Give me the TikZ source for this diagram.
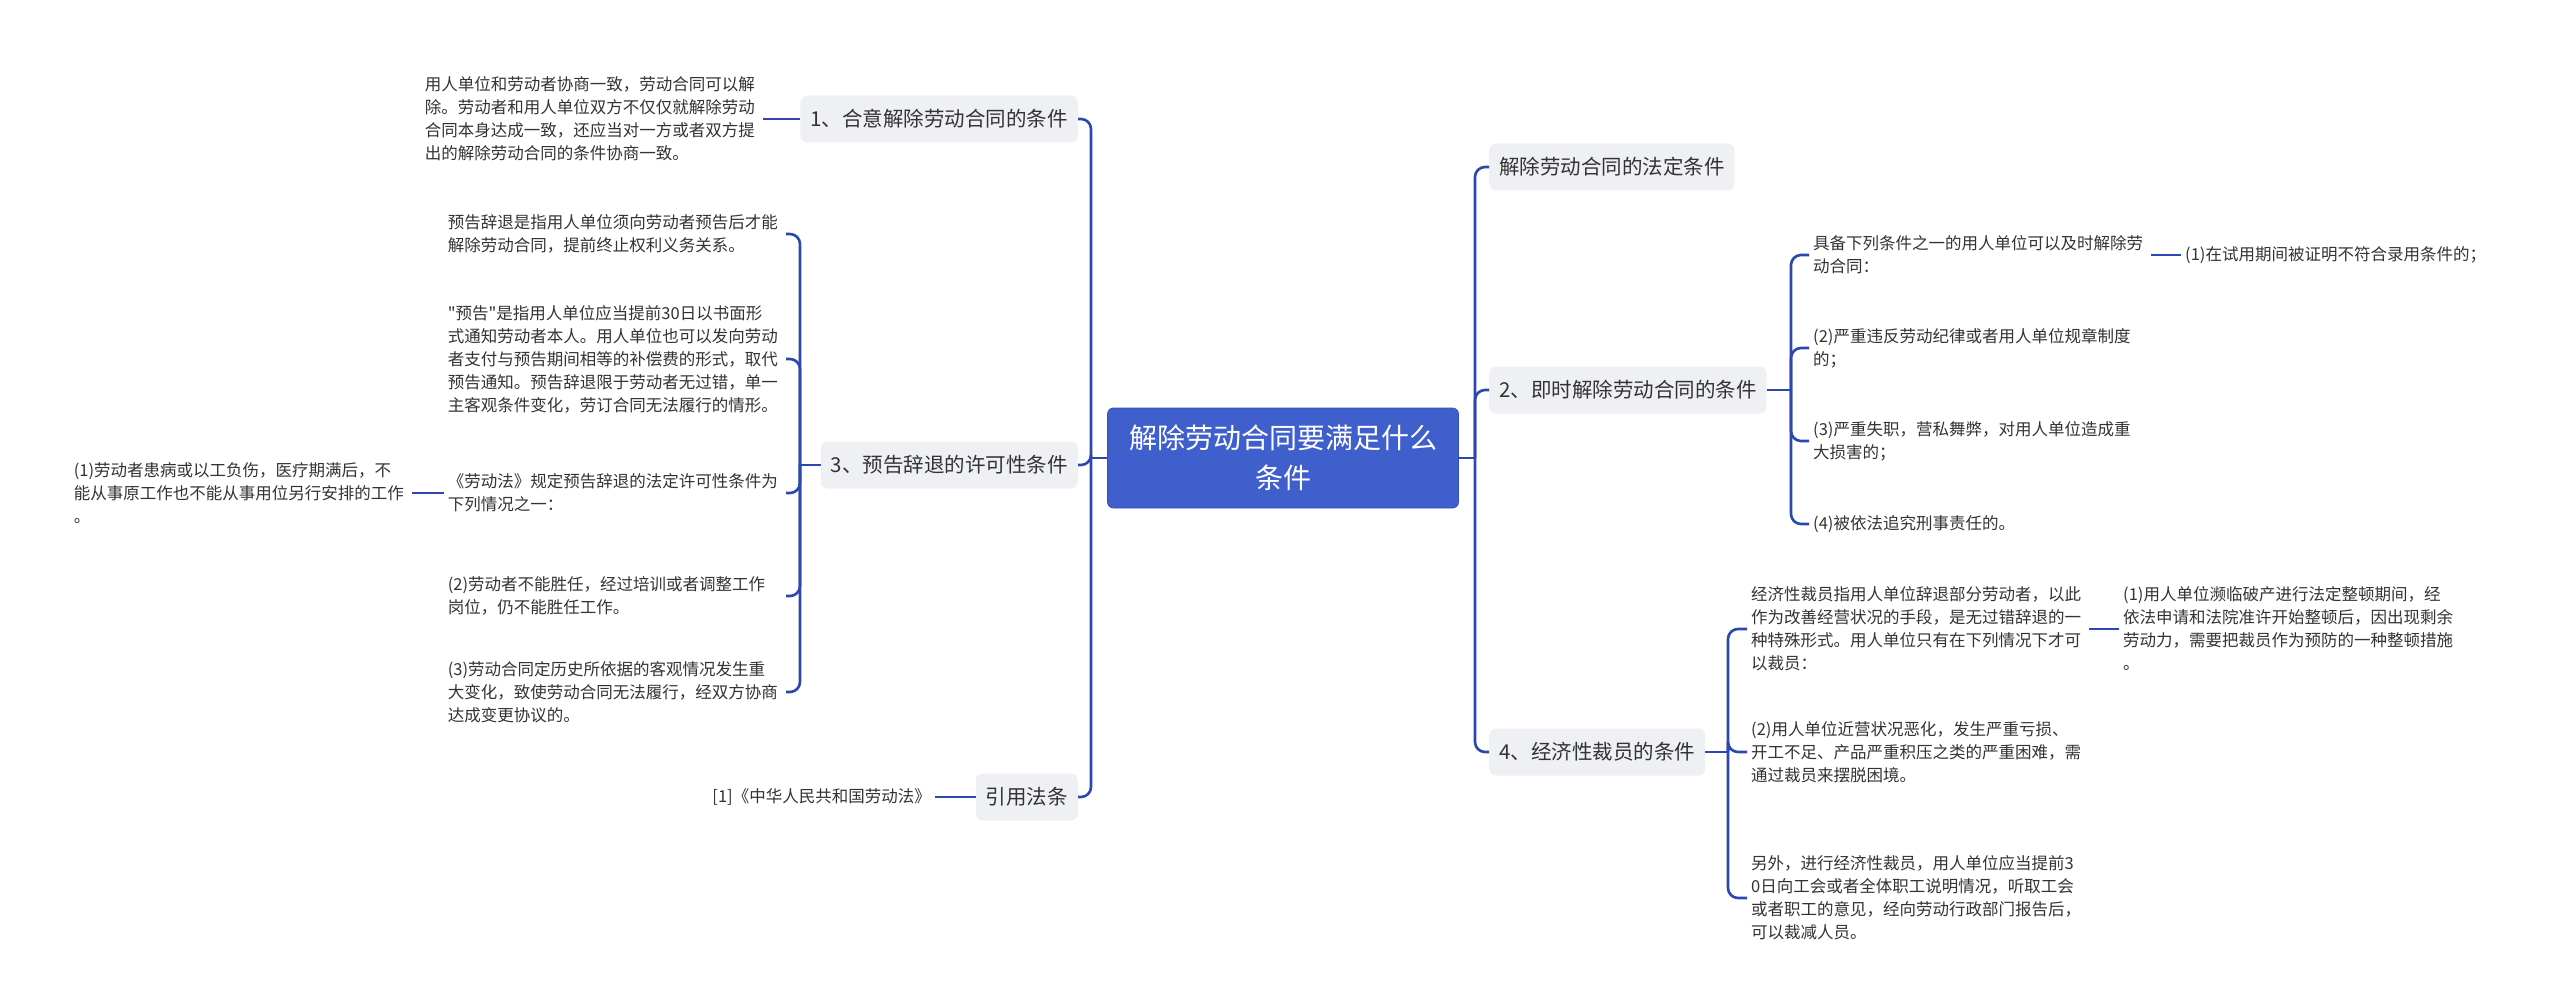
\documentclass[tikz,border=0pt]{standalone}
\usepackage{fontspec}
\setmainfont{Noto Sans CJK SC}
\newfontfamily\cjk{Noto Sans CJK SC}
\usepackage{xcolor}
\usetikzlibrary{calc}
\definecolor{linkblue}{HTML}{2C48B0}
\definecolor{rootblue}{HTML}{3F5FCC}
\definecolor{boxgray}{HTML}{EEF0F4}
\definecolor{txt}{HTML}{333333}
\newcommand{\notefont}{\cjk\fontsize{16.5}{23}\selectfont}
\newcommand{\topicfont}{\cjk\fontsize{20.5}{24}\selectfont}

\tikzset{
  link/.style={draw=linkblue, line width=2.6pt, rounded corners=10pt},
  topic/.style={fill=boxgray, rounded corners=7pt, inner xsep=10pt, minimum height=47pt, text=txt, font=\topicfont},
  note/.style={align=left, text width=334pt, inner xsep=4pt, inner ysep=2pt, text=txt, font=\notefont},
}

\begin{document}
\begin{tikzpicture}[x=1pt,y=-1pt]
  \fill[white] (0,0) rectangle (2560,995);
  \useasboundingbox (0,0) rectangle (2560,995);
  % root
  \node[fill=rootblue, draw=rootblue!85!black, line width=0.8pt, rounded corners=6pt,
        minimum width=351pt, minimum height=100pt, align=center, text=white,
        font=\cjk\fontsize{28}{40}\selectfont] (root) at (1283,458) {解除劳动合同要满足什么\\条件};
  \coordinate (jl) at (1091,458);
  \coordinate (jr) at (1475,458);
  % main topics
  \node[topic, anchor=east] (b1) at (1078,119) {1、合意解除劳动合同的条件};
  \node[topic, anchor=east] (b3) at (1078,465) {3、预告辞退的许可性条件};
  \node[topic, anchor=east] (b5) at (1078,797) {引用法条};
  \node[topic, anchor=west] (b0) at (1489,167) {解除劳动合同的法定条件};
  \node[topic, anchor=west] (b2) at (1489,390) {2、即时解除劳动合同的条件};
  \node[topic, anchor=west] (b4) at (1489,752) {4、经济性裁员的条件};
  \draw[link] (root.west) -- (jl);
  \foreach \b in {b1,b3,b5} \draw[link] (jl) |- (\b.east);
  \draw[link] (root.east) -- (jr);
  \foreach \b in {b0,b2,b4} \draw[link] (jr) |- (\b.west);

  % 1
  \node[note, anchor=east] (t1) at (763,119) {用人单位和劳动者协商一致，劳动合同可以解\\除。劳动者和用人单位双方不仅仅就解除劳动\\合同本身达成一致，还应当对一方或者双方提\\出的解除劳动合同的条件协商一致。};
  \draw[link] (b1.west) -- (t1.east);

  % 3
  \coordinate (j3) at (800,465);
  \draw[link] (b3.west) -- (j3);
  \node[note, anchor=east] (c31) at (786,234) {预告辞退是指用人单位须向劳动者预告后才能\\解除劳动合同，提前终止权利义务关系。};
  \node[note, anchor=east] (c32) at (786,359) {"预告"是指用人单位应当提前30日以书面形\\式通知劳动者本人。用人单位也可以发向劳动\\者支付与预告期间相等的补偿费的形式，取代\\预告通知。预告辞退限于劳动者无过错，单一\\主客观条件变化，劳订合同无法履行的情形。};
  \node[note, anchor=east] (c33) at (786,493) {《劳动法》规定预告辞退的法定许可性条件为\\下列情况之一：};
  \node[note, anchor=east] (c34) at (786,596) {(2)劳动者不能胜任，经过培训或者调整工作\\岗位，仍不能胜任工作。};
  \node[note, anchor=east] (c35) at (786,692) {(3)劳动合同定历史所依据的客观情况发生重\\大变化，致使劳动合同无法履行，经双方协商\\达成变更协议的。};
  \foreach \c in {c31,c32,c33,c34,c35} \draw[link] (j3) |- (\c.east);
  \node[note, anchor=east] (g331) at (412,493) {(1)劳动者患病或以工负伤，医疗期满后，不\\能从事原工作也不能从事用位另行安排的工作\\。};
  \draw[link] (c33.west) -- (g331.east);

  % citation
  \node[anchor=east, inner sep=4pt, text=txt, font=\notefont] (t5) at (935,797) {[1]《中华人民共和国劳动法》};
  \draw[link] (b5.west) -- (t5.east);

  % 2
  \coordinate (j2) at (1791,390);
  \draw[link] (b2.east) -- (j2);
  \node[note, anchor=west] (c21) at (1809,255) {具备下列条件之一的用人单位可以及时解除劳\\动合同：};
  \node[note, anchor=west] (c22) at (1809,348) {(2)严重违反劳动纪律或者用人单位规章制度\\的；};
  \node[note, anchor=west] (c23) at (1809,441) {(3)严重失职，营私舞弊，对用人单位造成重\\大损害的；};
  \node[note, anchor=west] (c24) at (1809,524) {(4)被依法追究刑事责任的。};
  \foreach \c in {c21,c22,c23,c24} \draw[link] (j2) |- (\c.west);
  \node[note, anchor=west] (g211) at (2181,255) {(1)在试用期间被证明不符合录用条件的；};
  \draw[link] (c21.east) -- (g211.west);

  % 4
  \coordinate (j4) at (1728,752);
  \draw[link] (b4.east) -- (j4);
  \node[note, anchor=west] (c41) at (1747,629) {经济性裁员指用人单位辞退部分劳动者，以此\\作为改善经营状况的手段，是无过错辞退的一\\种特殊形式。用人单位只有在下列情况下才可\\以裁员：};
  \node[note, anchor=west] (c42) at (1747,752) {(2)用人单位近营状况恶化，发生严重亏损、\\开工不足、产品严重积压之类的严重困难，需\\通过裁员来摆脱困境。};
  \node[note, anchor=west] (c43) at (1747,898) {另外，进行经济性裁员，用人单位应当提前3\\0日向工会或者全体职工说明情况，听取工会\\或者职工的意见，经向劳动行政部门报告后，\\可以裁减人员。};
  \foreach \c in {c41,c42,c43} \draw[link] (j4) |- (\c.west);
  \node[note, anchor=west] (g411) at (2119,629) {(1)用人单位濒临破产进行法定整顿期间，经\\依法申请和法院准许开始整顿后，因出现剩余\\劳动力，需要把裁员作为预防的一种整顿措施\\。};
  \draw[link] (c41.east) -- (g411.west);
\end{tikzpicture}
\end{document}
